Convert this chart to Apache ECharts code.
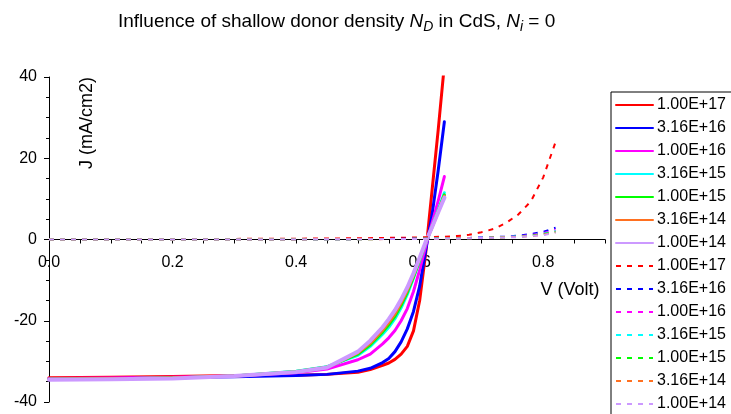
<!DOCTYPE html>
<html>
<head>
<meta charset="utf-8">
<script src="https://cdn.jsdelivr.net/npm/echarts@6/dist/echarts.min.js"></script>
<style>
html,body{margin:0;padding:0;background:#fff;}
#chart{width:731px;height:414px;}
</style>
</head>
<body>
<div id="chart"></div>
<script>
// Legend labels (N_D values)
const densities = ['1.00E+17','3.16E+16','1.00E+16','3.16E+15','1.00E+15','3.16E+14','1.00E+14'];

// Illuminated J-V (solid lines), voltage points (V)
const lightV = [0, 0.1, 0.2, 0.3, 0.4, 0.45, 0.5, 0.52, 0.54, 0.55, 0.56, 0.57, 0.58, 0.59, 0.6, 0.61, 0.62, 0.63, 0.64];
// current density (mA/cm2)
const light_1e17   = [-34.0,-33.9,-33.7,-33.5,-33.4,-33.2,-32.7,-32.0,-31.0,-30.4,-29.5,-28.2,-26.3,-22.5,-15.0,-3.0,12.0,27.0,43.0];
const light_316e16 = [-34.3,-34.2,-34.0,-33.8,-33.5,-33.2,-32.4,-31.7,-30.3,-29.3,-27.6,-25.2,-22.0,-17.7,-11.5,-2.5,6.0,17.0,29.0];
const light_1e16   = [-34.2,-34.1,-33.9,-33.6,-32.8,-31.9,-29.6,-28.2,-25.7,-24.2,-22.4,-20.0,-17.0,-12.8,-7.5,-1.5,4.0,9.5,15.5];
const light_316e15 = [-34.4,-34.3,-34.1,-33.6,-32.4,-31.3,-28.5,-26.3,-23.3,-21.6,-19.5,-16.8,-13.5,-9.5,-5.2,-0.8,3.2,7.3,11.5];
const light_1e15   = [-34.4,-34.3,-34.1,-33.6,-32.5,-31.4,-28.2,-25.9,-22.8,-21.0,-18.9,-16.2,-13.0,-9.2,-5.0,-0.7,3.1,7.0,11.0];
const light_316e14 = [-34.4,-34.3,-34.1,-33.6,-32.6,-31.5,-27.9,-25.5,-22.3,-20.4,-18.3,-15.6,-12.5,-8.8,-4.8,-0.6,3.0,6.8,10.7];
const light_1e14   = [-34.5,-34.4,-34.2,-33.6,-32.6,-31.5,-27.6,-24.9,-21.6,-19.6,-17.4,-14.8,-11.8,-8.3,-4.5,-0.5,3.0,6.7,10.3];

// Dark J-V (dashed lines)
const darkV = [0, 0.1, 0.2, 0.3, 0.4, 0.5, 0.55, 0.6, 0.62, 0.64, 0.66, 0.68, 0.7, 0.72, 0.74, 0.76, 0.78, 0.8, 0.82];
const dark_1e17   = [0,0.05,0.1,0.15,0.2,0.3,0.4,0.5,0.6,0.7,0.85,1.15,1.8,2.6,4.1,6.2,9.4,15.3,24.0];
const dark_316e16 = [0,0,0,0,0.02,0.1,0.15,0.2,0.25,0.3,0.35,0.4,0.5,0.6,0.7,0.95,1.35,1.9,2.9];
const dark_1e16   = [0,0,0,0,0.02,0.08,0.12,0.18,0.22,0.27,0.32,0.37,0.45,0.55,0.65,0.8,1.1,1.6,2.4];
const dark_316e15 = [0,0,0,0,0.02,0.08,0.12,0.17,0.21,0.25,0.3,0.35,0.42,0.52,0.62,0.75,1.0,1.4,2.1];
const dark_1e15   = [0,0,0,0,0.02,0.07,0.11,0.16,0.2,0.24,0.28,0.33,0.4,0.5,0.58,0.7,0.95,1.3,1.9];
const dark_316e14 = [0,0,0,0,0.02,0.07,0.1,0.15,0.19,0.23,0.27,0.31,0.38,0.47,0.55,0.65,0.9,1.2,1.8];
const dark_1e14   = [0,0,0,0,0.02,0.06,0.1,0.14,0.18,0.22,0.26,0.3,0.36,0.45,0.52,0.6,0.85,1.1,1.7];

const colors = ['#ff0000','#0000ff','#ff00ff','#00ffff','#00ff00','#ff7020','#cc99ff'];
const lightSets = [light_1e17, light_316e16, light_1e16, light_316e15, light_1e15, light_316e14, light_1e14];
const darkSets  = [dark_1e17, dark_316e16, dark_1e16, dark_316e15, dark_1e15, dark_316e14, dark_1e14];

const FONT = 'Liberation Sans, Arial, sans-serif';
const zip = (xs, ys) => xs.map((x, i) => [x, ys[i]]);

const series = [];
lightSets.forEach((ys, i) => {
  series.push({
    name: densities[i], type: 'line', symbol: 'none', smooth: false,
    data: zip(lightV, ys), color: colors[i],
    lineStyle: { color: colors[i], width: i === 6 ? 4 : 3, type: 'solid', join: 'round', cap: 'round' },
    emphasis: { disabled: true }
  });
});
darkSets.forEach((ys, i) => {
  series.push({
    name: 'd:' + densities[i], type: 'line', symbol: 'none', smooth: false,
    data: zip(darkV, ys), color: colors[i],
    lineStyle: { color: colors[i], width: 2, type: [5, 6] },
    emphasis: { disabled: true }
  });
});

const chart = echarts.init(document.getElementById('chart'), null, { renderer: 'canvas' });
chart.setOption({
  animation: false,
  backgroundColor: '#fff',
  title: {
    text: 'Influence of shallow donor density {n|N}{s|D} in CdS, {n|N}{s|i} = 0',
    left: 118, top: 10, padding: 0,
    textStyle: {
      fontFamily: FONT, fontSize: 19, fontWeight: 'normal', color: '#000', lineHeight: 24,
      rich: {
        n: { fontFamily: FONT, fontSize: 19, fontStyle: 'italic', color: '#000', lineHeight: 24 },
        s: { fontFamily: FONT, fontSize: 14, fontStyle: 'italic', color: '#000', lineHeight: 14, verticalAlign: 'bottom' }
      }
    }
  },
  legend: {
    orient: 'vertical', left: 611, top: 92, height: 340,
    padding: [5, 40, 4, 4], itemGap: 7, itemWidth: 37, itemHeight: 14,
    borderColor: '#000', borderWidth: 1, borderRadius: 0,
    itemStyle: { opacity: 0 },
    textStyle: { fontFamily: FONT, fontSize: 16, color: '#000', padding: [0, 0, 0, -1] },
    formatter: name => name.replace(/^d:/, ''),
    selectedMode: false
  },
  grid: { left: 49, right: 126, top: 77, bottom: 12, containLabel: false, outerBoundsMode: 'none' },
  xAxis: {
    type: 'value', min: 0, max: 0.9, interval: 0.05,
    offset: -162.5,
    axisLine: { onZero: false, lineStyle: { color: '#000', width: 1 } },
    axisTick: { show: true, length: 4, lineStyle: { color: '#000' } },
    axisLabel: {
      fontFamily: FONT, fontSize: 16, color: '#000', margin: 15,
      formatter: v => (Math.round(v * 100) % 20 === 0 ? v.toFixed(1) : '')
    },
    splitLine: { show: false }
  },
  yAxis: {
    type: 'value', min: -40, max: 40, interval: 20,
    axisLine: { show: true, onZero: false, lineStyle: { color: '#000', width: 1 } },
    axisTick: { show: true, length: 5, lineStyle: { color: '#000' } },
    minorTick: { show: true, splitNumber: 4, length: 3, lineStyle: { color: '#000' } },
    axisLabel: { fontFamily: FONT, fontSize: 16, color: '#000', margin: 12 },
    splitLine: { show: false }
  },
  graphic: [
    { type: 'text', x: 87, y: 123, rotation: Math.PI / 2,
      style: { text: 'J (mA/cm2)', font: '18px ' + FONT, fill: '#000', align: 'center', verticalAlign: 'middle' } },
    { type: 'text', x: 570, y: 290,
      style: { text: 'V (Volt)', font: '18px ' + FONT, fill: '#000', align: 'center', verticalAlign: 'middle' } }
  ],
  series: series
});
</script>
</body>
</html>
